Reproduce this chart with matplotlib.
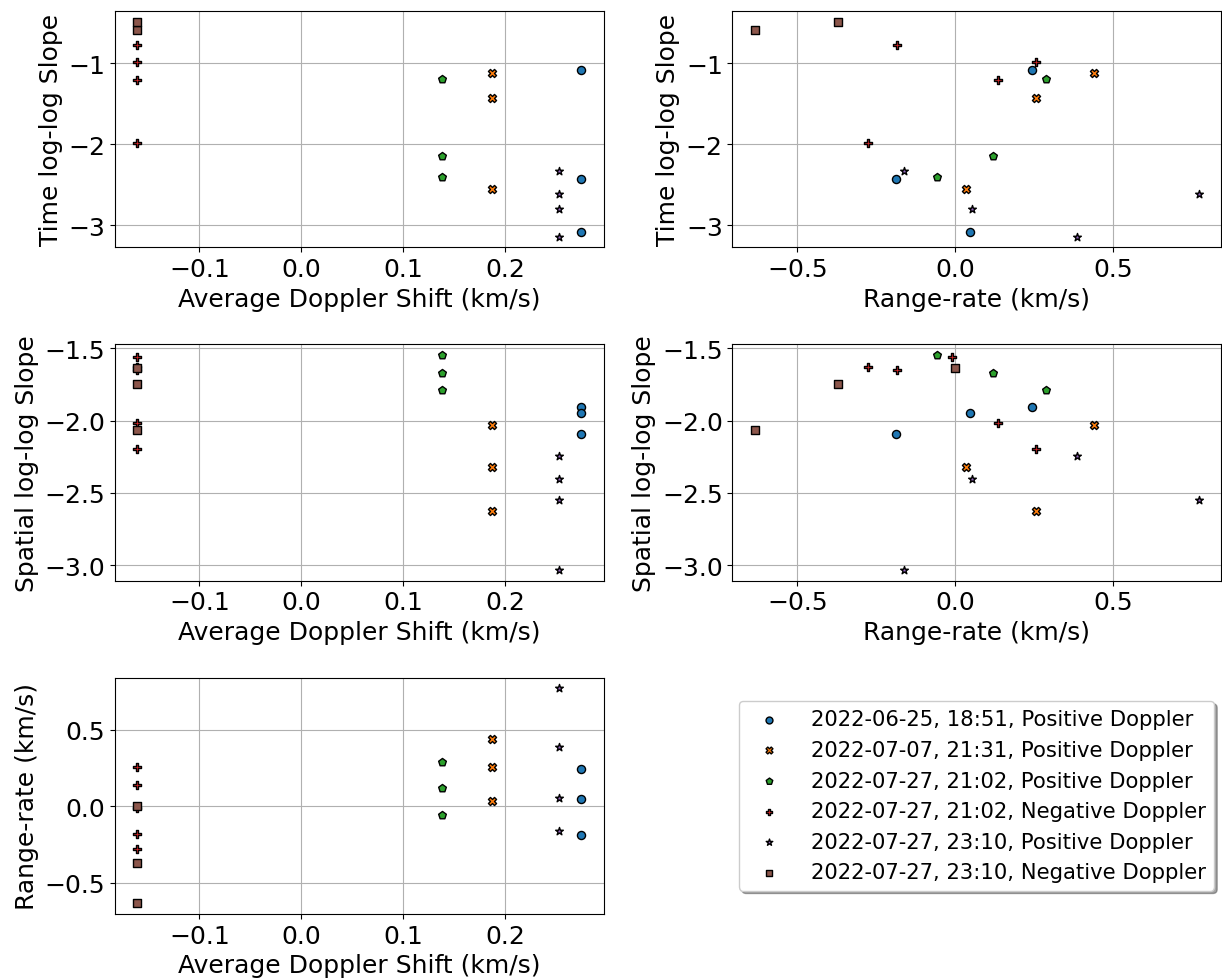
import numpy as np
import matplotlib
matplotlib.use("Agg")
import matplotlib.pyplot as plt

plt.rcParams['font.size'] = 18

# Etiquetas de cada observación
labels = [
    "2022-06-25, 18:51, Positive Doppler",
    "2022-07-07, 21:31, Positive Doppler",
    "2022-07-27, 21:02, Positive Doppler",
    "2022-07-27, 21:02, Negative Doppler",
    "2022-07-27, 23:10, Positive Doppler",
    "2022-07-27, 23:10, Negative Doppler",
]
markers = ['o', 'X', 'p', 'P', '*', 's']
colors = ['tab:blue', 'tab:orange', 'tab:green', 'tab:red', 'tab:purple', 'tab:brown']

# Doppler promedio (km/s) de cada observación
doppler = [0.275, 0.187, 0.138, -0.161, 0.253, -0.161]

# Range-rate (km/s)
rr_0625 = [0.243, -0.188, 0.046]
rr_0707 = [0.44, 0.255, 0.034]
rr_2102_pos = [0.287, 0.12, -0.057]
rr_2102_neg = [-0.184, 0.255, 0.136, -0.277, -0.01]
rr_2310_pos = [-0.164, 0.77, 0.051, 0.384]
rr_2310_neg = [-0.635, -0.373, 0.0]

# Pendiente log-log temporal
time_0625 = [-1.09, -2.43, -3.08]
time_0707 = [-1.12, -1.43, -2.55]
time_2102_pos = [-1.20, -2.14, -2.40]
time_2102_neg = [-0.78, -0.98, -1.21, -1.98, np.nan]
time_2310_pos = [-2.33, -2.61, -2.80, -3.14]
time_2310_neg = [-0.586, -0.488, np.nan]

# Pendiente log-log espacial
spat_0625 = [-1.905, -2.094, -1.95]
spat_0707 = [-2.03, -2.624, -2.32]
spat_2102_pos = [-1.79, -1.67, -1.548]
spat_2102_neg = [-1.648, -2.20, -2.014, -1.629, -1.56]
spat_2310_pos = [-3.032, -2.551, -2.406, -2.244]
spat_2310_neg = [-2.065, -1.749, -1.638]

range_rate = [rr_0625, rr_0707, rr_2102_pos, rr_2102_neg, rr_2310_pos, rr_2310_neg]
time_slope = [time_0625, time_0707, time_2102_pos, time_2102_neg, time_2310_pos, time_2310_neg]
spatial_slope = [spat_0625, spat_0707, spat_2102_pos, spat_2102_neg, spat_2310_pos, spat_2310_neg]

fig, axes = plt.subplots(3, 2, figsize=(12.22, 9.79), dpi=100)
fig.subplots_adjust(left=115/1222, right=1221/1222, top=1-12/979, bottom=1-915/979,
                    wspace=0.264, hspace=0.411)

for i in range(len(labels)):
    d = np.full(len(range_rate[i]), doppler[i])
    kw = dict(marker=markers[i], color=colors[i], edgecolors='black',
              linewidths=1.0, s=34, label=labels[i], zorder=3)
    axes[0, 0].scatter(d, time_slope[i], **kw)
    axes[0, 1].scatter(range_rate[i], time_slope[i], **kw)
    axes[1, 0].scatter(d, spatial_slope[i], **kw)
    axes[1, 1].scatter(range_rate[i], spatial_slope[i], **kw)
    axes[2, 0].scatter(d, range_rate[i], **kw)

axes[0, 0].set_xlabel('Average Doppler Shift (km/s)')
axes[0, 0].set_ylabel('Time log-log Slope')
axes[0, 1].set_xlabel('Range-rate (km/s)')
axes[0, 1].set_ylabel('Time log-log Slope')
axes[1, 0].set_xlabel('Average Doppler Shift (km/s)')
axes[1, 0].set_ylabel('Spatial log-log Slope')
axes[1, 1].set_xlabel('Range-rate (km/s)')
axes[1, 1].set_ylabel('Spatial log-log Slope')
axes[2, 0].set_xlabel('Average Doppler Shift (km/s)')
axes[2, 0].set_ylabel('Range-rate (km/s)')

for ax in [axes[0, 0], axes[0, 1], axes[1, 0], axes[1, 1], axes[2, 0]]:
    ax.grid(True)

# Leyenda en el hueco de abajo a la derecha
handles, leg_labels = axes[2, 0].get_legend_handles_labels()
axes[2, 1].axis('off')
axes[2, 1].legend(handles, leg_labels, loc='center', fontsize=15.2, shadow=True,
                  markerscale=0.85, handletextpad=1.0)

fig.savefig('out.png', dpi=100)
